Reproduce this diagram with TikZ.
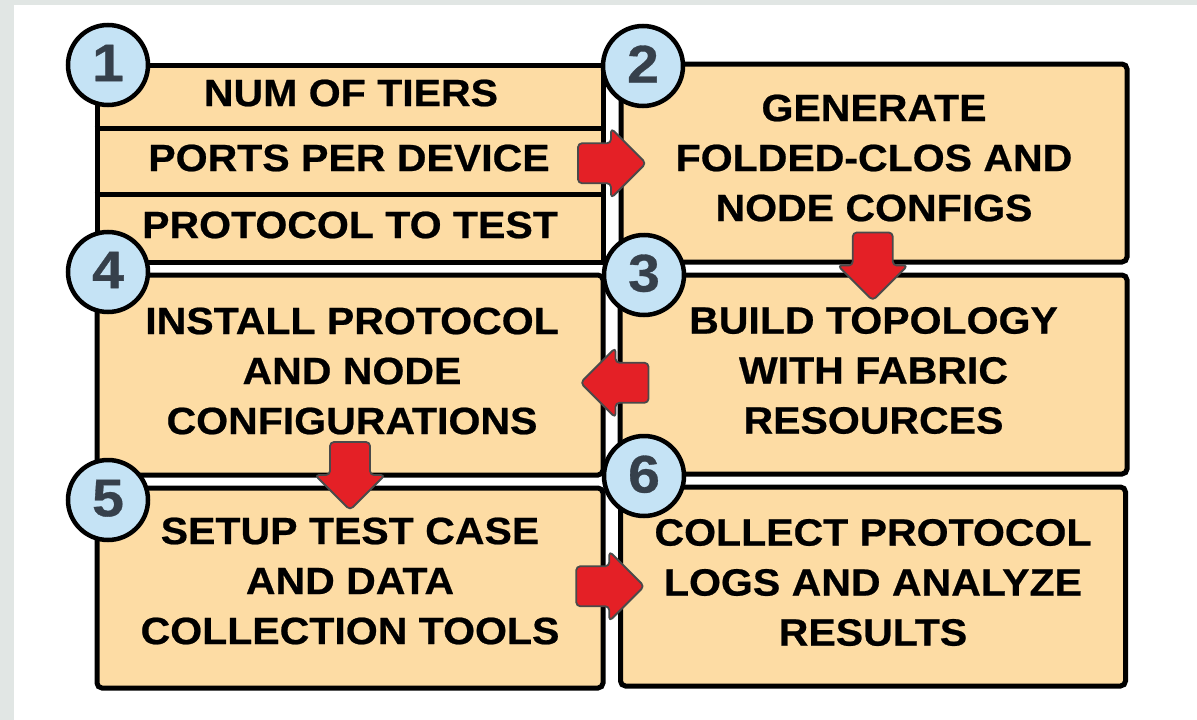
\documentclass[tikz,border=0pt]{standalone}
\usepackage{fontspec}
\setmainfont{Liberation Sans}[FakeStretch=1.08, BoldFeatures={FakeBold=0.6}]
\usetikzlibrary{calc}

\definecolor{pagegray}{RGB}{225,230,228}
\definecolor{boxfill}{RGB}{253,220,164}
\definecolor{bubblefill}{RGB}{197,227,245}
\definecolor{digitgray}{RGB}{54,64,75}
\definecolor{arrowred}{RGB}{228,32,38}
\definecolor{arrowedge}{RGB}{74,74,74}

\tikzset{
  stepbox/.style={draw=black, line width=5pt, fill=boxfill, rounded corners=5pt,
    inner sep=0pt},
  tablebox/.style={draw=black, line width=5pt, fill=boxfill, inner sep=0pt},
  steptext/.style={align=center, inner sep=0pt,
    font=\fontsize{38}{50}\selectfont\bfseries},
  rowtext/.style={font=\fontsize{38}{50}\selectfont\bfseries, inner sep=0pt},
  bubble/.style={circle, draw=black, line width=4.5pt, fill=bubblefill,
    minimum size=80pt, inner sep=0pt, text=digitgray,
    font=\fontsize{53}{53}\selectfont\bfseries},
  arrowbody/.style={fill=arrowred, draw=arrowedge, line width=1.8pt,
    rounded corners=4pt, line join=round},
  blockarrow/.pic={
    \draw[arrowbody] (-34,-20) -- (-1,-20) -- (-1,-35) -- (34,0)
      -- (-1,35) -- (-1,20) -- (-34,20) -- cycle;
  }
}

\begin{document}
\begin{tikzpicture}[x=1pt, y=-1pt]
  % page and frame
  \useasboundingbox (0,0) rectangle (1197,720);
  \fill[pagegray] (0,0) rectangle (1197,720);
  \fill[white] (14,5) rectangle (1197,720);

  % step 1: parameter table
  \node[tablebox, minimum width=506pt, minimum height=197pt] (b1) at (350,163.5) {};
  \draw[line width=5pt] ($(b1.north west)+(0,65.5)$) coordinate (r1l) -- (r1l -| b1.east);
  \draw[line width=5pt] ($(b1.north west)+(0,131.5)$) coordinate (r2l) -- (r2l -| b1.east);
  \node[rowtext] (t11) at (351,93) {NUM OF TIERS};
  \node[rowtext] (t12) at (349,158) {PORTS PER DEVICE};
  \node[rowtext] (t13) at (350,225) {PROTOCOL TO TEST};

  % steps 2 to 6
  \node[stepbox, minimum width=506pt, minimum height=198pt] (b2) at (874,163) {};
  \node[stepbox, minimum width=507pt, minimum height=199pt] (b3) at (873.5,374.5) {};
  \node[stepbox, minimum width=506pt, minimum height=200pt] (b4) at (350,375) {};
  \node[stepbox, minimum width=506pt, minimum height=200pt] (b5) at (350,588) {};
  \node[stepbox, minimum width=505pt, minimum height=199pt] (b6) at (873,586.5) {};

  \node[steptext] (t2) at ($(b2.center)+(0,-5)$) {GENERATE\\FOLDED-CLOS AND\\NODE CONFIGS};
  \node[steptext] (t3) at ($(b3.center)+(0,-4)$) {BUILD TOPOLOGY\\WITH FABRIC\\RESOURCES};
  \node[steptext] (t4) at ($(b4.center)+(2,-4)$) {INSTALL PROTOCOL\\AND NODE\\CONFIGURATIONS};
  \node[steptext] (t5) at ($(b5.center)+(0,-7)$) {SETUP TEST CASE\\AND DATA\\COLLECTION TOOLS};
  \node[steptext] (t6) at ($(b6.center)+(0,-4)$) {COLLECT PROTOCOL\\LOGS AND ANALYZE\\RESULTS};

  % numbered bubbles
  \node[bubble] (c1) at (108,65) {\raisebox{4pt}{1}};
  \node[bubble] (c2) at (643,66) {\raisebox{4pt}{2}};
  \node[bubble] (c3) at (644,275) {\raisebox{4pt}{3}};
  \node[bubble] (c4) at (108,272) {\raisebox{4pt}{4}};
  \node[bubble] (c5) at (108,500) {\raisebox{4pt}{5}};
  \node[bubble] (c6) at (644,476) {\raisebox{4pt}{6}};

  % flow arrows between steps
  \pic (a12) at ($(b1.east)!.5!(b2.west)$) {blockarrow};
  \pic[rotate=-90] (a23) at ($($(b2.south)!.5!(b3.north)$)+(-1,-2)$) {blockarrow};
  \pic[rotate=180] (a34) at ($($(b3.west)!.5!(b4.east)$)+(3,8)$) {blockarrow};
  \pic[rotate=-90] (a45) at ($($(b4.south)!.5!(b5.north)$)+(0,-5.5)$) {blockarrow};
  \pic (a56) at ($($(b5.east)!.5!(b6.west)$)+(-1.5,-1)$) {blockarrow};
\end{tikzpicture}
\end{document}
